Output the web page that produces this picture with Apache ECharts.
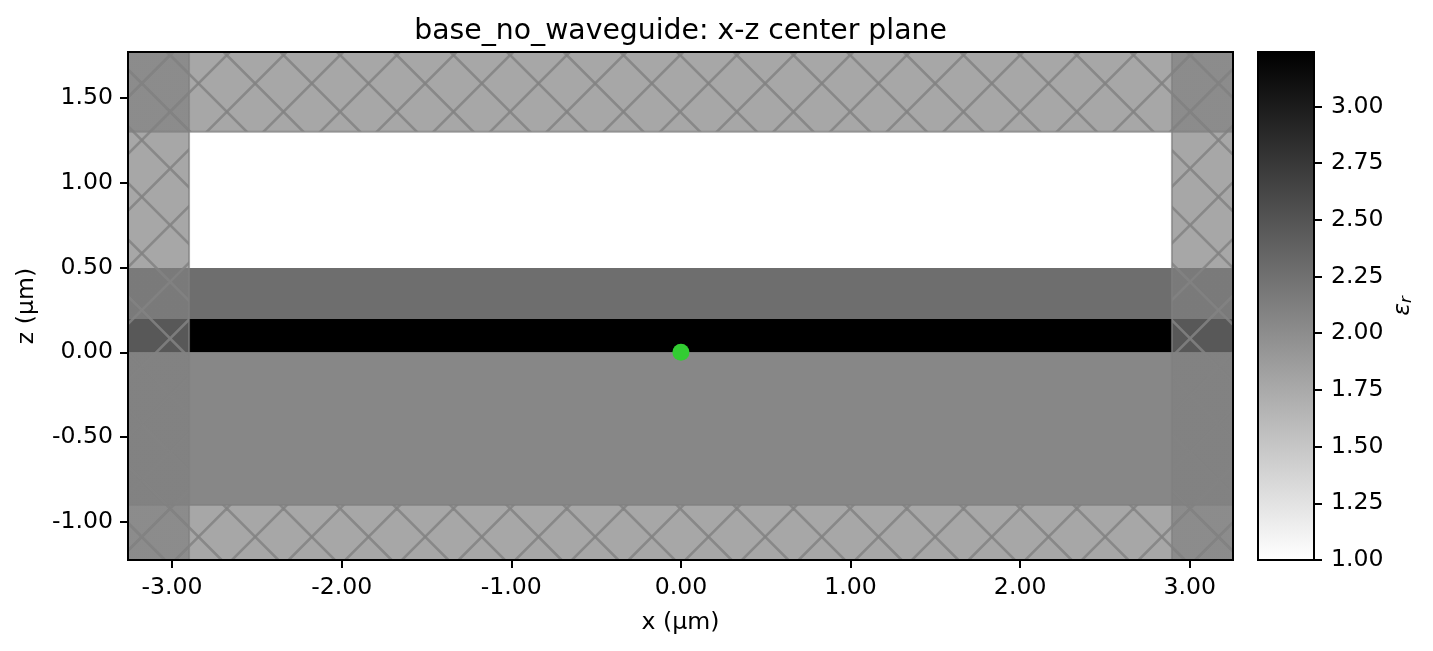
<!DOCTYPE html>
<html>
<head>
<meta charset="utf-8">
<style>
  html, body { margin: 0; padding: 0; background: #fff; }
  #chart { width: 1433px; height: 651px; }
</style>
<script src="https://cdn.jsdelivr.net/npm/echarts@6/dist/echarts.min.js"></script>
</head>
<body>
<div id="chart"></div>
<script>
var xTicks = [-3, -2, -1, 0, 1, 2, 3];
var zTicks = [-1, -0.5, 0, 0.5, 1, 1.5];
var epsTicks = [1, 1.25, 1.5, 1.75, 2, 2.25, 2.5, 2.75, 3];

var xRange = [-3.26, 3.255];
var zRange = [-1.225, 1.771];
var epsRange = [1, 3.24];

// material layers
var layerXStart = [-3.26, -3.26, -3.26];
var layerXEnd = [3.255, 3.255, 3.255];
var layerZStart = [-0.9, 0.197, 0];
var layerZEnd = [0, 0.497, 0.197];
var layerEps = [2.05, 2.27, 3.24];

// absorber regions, these get the hatch
var pmlXStart = [-3.26, 2.895, -3.26, -3.26];
var pmlXEnd = [-2.9, 3.255, 3.255, 3.255];
var pmlZStart = [-1.225, -1.225, 1.3, -1.225];
var pmlZEnd = [1.771, 1.771, 1.771, -0.9];

var sourceX = [0];
var sourceZ = [0];

function epsColor(eps) {
  var g = Math.round(255 * (1 - (eps - epsRange[0]) / (epsRange[1] - epsRange[0])));
  return "rgb(" + g + "," + g + "," + g + ")";
}

function hatchTile() {
  var size = 170;
  var step = size / 3;
  var cv = document.createElement("canvas");
  cv.width = size;
  cv.height = size;
  var ctx = cv.getContext("2d");
  ctx.fillStyle = "rgba(128,128,128,0.69)";
  ctx.fillRect(0, 0, size, size);
  ctx.strokeStyle = "rgba(131,131,131,0.85)";
  ctx.lineWidth = 2.6;
  for (var k = -6; k <= 6; k++) {
    ctx.beginPath();
    ctx.moveTo(0, -(1.7 + k * step));
    ctx.lineTo(size, size - (1.7 + k * step));
    ctx.moveTo(0, -1.4 + k * step);
    ctx.lineTo(size, -1.4 + k * step - size);
    ctx.stroke();
  }
  return cv;
}

var tile = hatchTile();

function boxShape(api) {
  var a = api.coord([api.value(0), api.value(3)]);
  var b = api.coord([api.value(1), api.value(2)]);
  return { x: a[0], y: a[1], width: b[0] - a[0], height: b[1] - a[1] };
}

function layerItem(params, api) {
  return {
    type: "rect",
    shape: boxShape(api),
    style: { fill: epsColor(api.value(4)) },
  };
}

function pmlItem(params, api) {
  return {
    type: "rect",
    shape: boxShape(api),
    style: {
      fill: { image: tile, repeat: "repeat" },
      stroke: "rgba(128,128,128,0.7)",
      lineWidth: 2,
    },
  };
}

function frameItem(params, api) {
  return {
    type: "rect",
    shape: boxShape(api),
    style: { fill: "none", stroke: "#000", lineWidth: 2 },
  };
}

function barItem(params, api) {
  return {
    type: "rect",
    shape: boxShape(api),
    style: {
      fill: {
        type: "linear", x: 0, y: 0, x2: 0, y2: 1,
        colorStops: [
          { offset: 0, color: epsColor(epsRange[1]) },
          { offset: 1, color: epsColor(epsRange[0]) },
        ],
      },
    },
  };
}

var layerData = layerEps.map(function (e, i) {
  return [layerXStart[i], layerXEnd[i], layerZStart[i], layerZEnd[i], e];
});
var pmlData = pmlXStart.map(function (x, i) {
  return [x, pmlXEnd[i], pmlZStart[i], pmlZEnd[i]];
});

var font = "DejaVu Sans";
var tickSize = 23.6;

function plotAxisLabel(margin, ticks) {
  return {
    fontFamily: font,
    fontSize: tickSize,
    color: "#000",
    margin: margin,
    padding: [6, 0, 0, 0],
    customValues: ticks,
    formatter: function (v) { return v.toFixed(2); },
  };
}

var chartDOM = document.getElementById("chart");
var chart = echarts.init(chartDOM, null, { renderer: "canvas" });
var option = {
  animation: false,
  backgroundColor: "#fff",
  title: {
    text: "base_no_waveguide: x-z center plane",
    left: 675.5,
    top: 13,
    textAlign: "center",
    textStyle: { fontFamily: font, fontSize: 28.3, fontWeight: "normal", color: "#000" },
  },
  grid: [
    { left: 128, top: 52, width: 1105, height: 508, outerBoundsMode: "none" },
    { left: 1258, top: 52, width: 56, height: 508, outerBoundsMode: "none" },
  ],
  xAxis: [
    {
      type: "value",
      min: xRange[0],
      max: xRange[1],
      splitLine: { show: false },
      axisLine: { show: false, onZero: false },
      axisTick: { length: 8, lineStyle: { color: "#000", width: 2 }, customValues: xTicks },
      axisLabel: plotAxisLabel(10, xTicks),
      name: "x (µm)",
      nameLocation: "middle",
      nameGap: 51,
      nameTextStyle: { fontFamily: font, fontSize: tickSize, color: "#000" },
    },
    {
      gridIndex: 1,
      type: "value",
      min: 0,
      max: 1,
      show: false,
    },
  ],
  yAxis: [
    {
      type: "value",
      min: zRange[0],
      max: zRange[1],
      splitLine: { show: false },
      axisLine: { show: false, onZero: false },
      axisTick: { length: 8, lineStyle: { color: "#000", width: 2 }, customValues: zTicks },
      axisLabel: plotAxisLabel(15, zTicks),
      name: "z (µm)",
      nameLocation: "middle",
      nameGap: 89,
      nameRotate: 90,
      nameTextStyle: { fontFamily: font, fontSize: tickSize, color: "#000" },
    },
    {
      gridIndex: 1,
      type: "value",
      position: "right",
      min: epsRange[0],
      max: epsRange[1],
      splitLine: { show: false },
      axisLine: { show: false, onZero: false },
      axisTick: { length: 8, lineStyle: { color: "#000", width: 2 }, customValues: epsTicks },
      axisLabel: plotAxisLabel(17, epsTicks),
      name: "{e|ε}{r|r}",
      nameLocation: "middle",
      nameGap: 76,
      nameRotate: 90,
      nameTextStyle: {
        rich: {
          e: { fontFamily: font, fontStyle: "italic", fontSize: 23.6, color: "#000" },
          r: { fontFamily: font, fontStyle: "italic", fontSize: 16.5, color: "#000", verticalAlign: "bottom", padding: [8, 0, 0, 0] },
        },
      },
    },
  ],
  series: [
    {
      type: "custom",
      renderItem: layerItem,
      data: layerData,
      encode: { x: [0, 1], y: [2, 3] },
      z: 2,
      silent: true,
    },
    {
      type: "custom",
      renderItem: pmlItem,
      data: pmlData,
      encode: { x: [0, 1], y: [2, 3] },
      z: 3,
      silent: true,
    },
    {
      type: "scatter",
      data: sourceX.map(function (x, i) { return [x, sourceZ[i]]; }),
      symbolSize: 17,
      itemStyle: { color: "#32cd32", opacity: 1 },
      z: 4,
      silent: true,
    },
    {
      type: "custom",
      renderItem: frameItem,
      data: [[xRange[0], xRange[1], zRange[0], zRange[1]]],
      encode: { x: [0, 1], y: [2, 3] },
      clip: false,
      z: 5,
      silent: true,
    },
    {
      type: "custom",
      xAxisIndex: 1,
      yAxisIndex: 1,
      renderItem: barItem,
      data: [[0, 1, epsRange[0], epsRange[1]]],
      encode: { x: [0, 1], y: [2, 3] },
      z: 2,
      silent: true,
    },
    {
      type: "custom",
      xAxisIndex: 1,
      yAxisIndex: 1,
      renderItem: frameItem,
      data: [[0, 1, epsRange[0], epsRange[1]]],
      encode: { x: [0, 1], y: [2, 3] },
      clip: false,
      z: 5,
      silent: true,
    },
  ],
};

option && chart.setOption(option);
</script>
</body>
</html>
